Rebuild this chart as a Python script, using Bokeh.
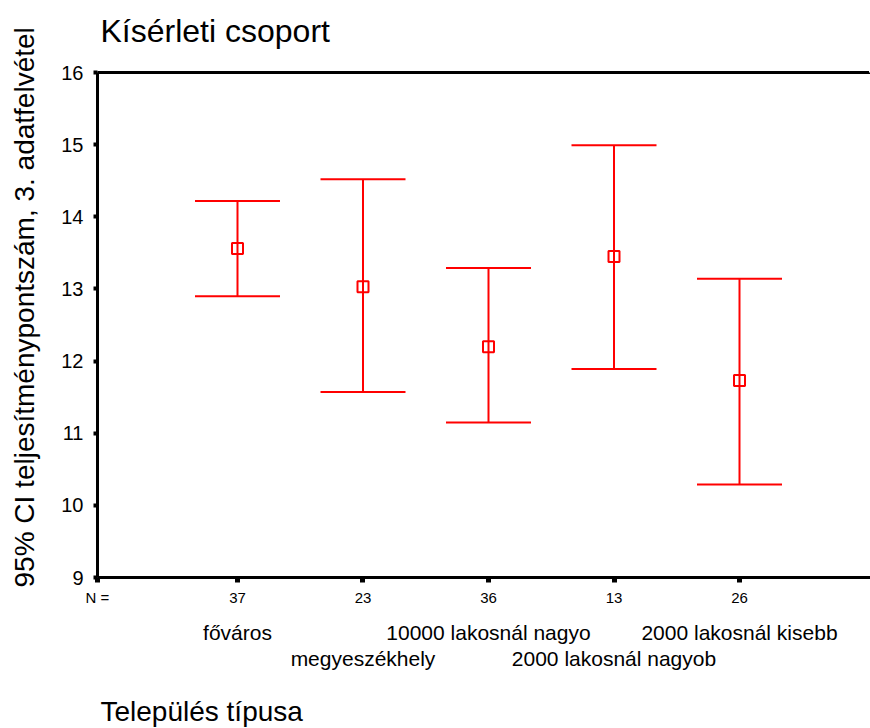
from bokeh.plotting import figure
from bokeh.models import (ColumnDataSource, Whisker, TeeHead, Title,
                          FixedTicker, Range1d, LinearAxis)
from bokeh.embed import file_html
from bokeh.resources import INLINE

# ---- data ----
categories = ["főváros", "megyeszékhely", "10000 lakosnál nagyo",
              "2000 lakosnál nagyob", "2000 lakosnál kisebb"]
n_values = ["37", "23", "36", "13", "26"]
means = [13.56, 13.03, 12.20, 13.45, 11.73]
upper = [14.22, 14.52, 13.29, 14.99, 13.14]
lower = [12.90, 11.57, 11.15, 11.89, 10.29]
y_ticks = [9, 10, 11, 12, 13, 14, 15, 16]

title_text = "Kísérleti csoport"
x_title = "Település típusa"
y_title = "95% CI teljesítménypontszám, 3. adatfelvétel"
n_label = "N ="

FONT = "Liberation Sans"
RED = "#ff0000"
XMIN, XMAX = -0.1155, 6.0438

xpos = list(range(1, len(categories) + 1))
src = ColumnDataSource(dict(x=xpos, mean=means, upper=upper, lower=lower))

p = figure(width=870, height=728, output_backend="svg", toolbar_location=None,
           x_range=Range1d(XMIN, XMAX), y_range=Range1d(9, 16),
           min_border_left=97, min_border_right=0, min_border_top=72,
           min_border_bottom=150)
p.outline_line_color = None
p.xgrid.visible = False
p.ygrid.visible = False
p.background_fill_color = "white"
p.border_fill_color = "white"

xax = p.below[0]
yax = p.left[0]


def spacer(px, tick, line_color=None, line_width=1):
    # an axis with one invisible tick, used only to reserve space in a side panel
    return LinearAxis(ticker=FixedTicker(ticks=[tick]), axis_line_color=line_color,
                      axis_line_width=line_width, major_tick_out=px, major_tick_in=0,
                      minor_tick_out=0, minor_tick_in=0, major_label_standoff=0,
                      major_tick_line_color="white", minor_tick_line_color=None,
                      major_label_overrides={tick: ""},
                      major_label_text_color=None, major_label_text_font_size="1px")


# top border line (also spacing below the title)
p.add_layout(spacer(17, XMAX - 0.01, "black", 3), "above")

# title
p.title.text = title_text
p.title.align = "left"
p.title.offset = 3
p.title.vertical_align = "bottom"
p.title.text_font = FONT
p.title.text_font_size = "32px"
p.title.text_font_style = "normal"
p.title.text_color = "black"
p.title.standoff = 14

# y axis
yax.ticker = FixedTicker(ticks=y_ticks)
yax.axis_line_width = 3
yax.major_tick_line_width = 4
yax.major_tick_out = 4
yax.major_tick_in = 0
yax.minor_tick_out = 0
yax.minor_tick_in = 0
yax.major_label_text_font = FONT
yax.major_label_text_font_size = "20px"
yax.major_label_text_color = "black"
yax.major_label_standoff = 10

p.add_layout(spacer(14, 9.05), "left")
ytitle = Title(text=y_title, align="left", offset=-10, vertical_align="bottom",
               text_font=FONT, text_font_size="28px", text_font_style="normal",
               text_color="black", standoff=10)
p.add_layout(ytitle, "left")

# x axis with N values
xax.ticker = FixedTicker(ticks=[XMIN] + xpos)
overrides = {XMIN: n_label, str(XMIN): n_label}
overrides.update({i: n for i, n in zip(xpos, n_values)})
xax.major_label_overrides = overrides
xax.axis_line_width = 3
xax.major_tick_line_width = 5
xax.major_tick_out = 5
xax.major_tick_in = 0
xax.minor_tick_out = 0
xax.minor_tick_in = 0
xax.major_label_text_font = FONT
xax.major_label_text_font_size = "15px"
xax.major_label_text_color = "black"
xax.major_label_standoff = 6


def cat_axis(idx, standoff):
    ticks = [xpos[i] for i in idx]
    return LinearAxis(ticker=FixedTicker(ticks=ticks),
                      major_label_overrides={xpos[i]: categories[i] for i in idx},
                      axis_line_color=None, major_tick_line_color=None,
                      minor_tick_line_color=None, major_tick_out=0, major_tick_in=0,
                      minor_tick_out=0, minor_tick_in=0,
                      major_label_text_font=FONT, major_label_text_font_size="21px",
                      major_label_text_color="black", major_label_standoff=standoff)


p.add_layout(cat_axis([0, 2, 4], 12), "below")
p.add_layout(cat_axis([1, 3], 0), "below")
p.add_layout(spacer(19, XMAX - 0.01), "below")

xt = Title(text=x_title, align="left", offset=3, vertical_align="bottom",
           text_font=FONT, text_font_size="28px", text_font_style="normal",
           text_color="black", standoff=4)
p.add_layout(xt, "below")

# error bars
wh = Whisker(base="x", upper="upper", lower="lower", source=src,
             line_color=RED, line_width=2,
             upper_head=TeeHead(size=85, line_color=RED, line_width=2),
             lower_head=TeeHead(size=85, line_color=RED, line_width=2))
p.add_layout(wh)
p.scatter("x", "mean", source=src, marker="square", size=11,
          fill_alpha=0, line_color=RED, line_width=2)

open("out.html", "w").write(file_html(p, INLINE))
